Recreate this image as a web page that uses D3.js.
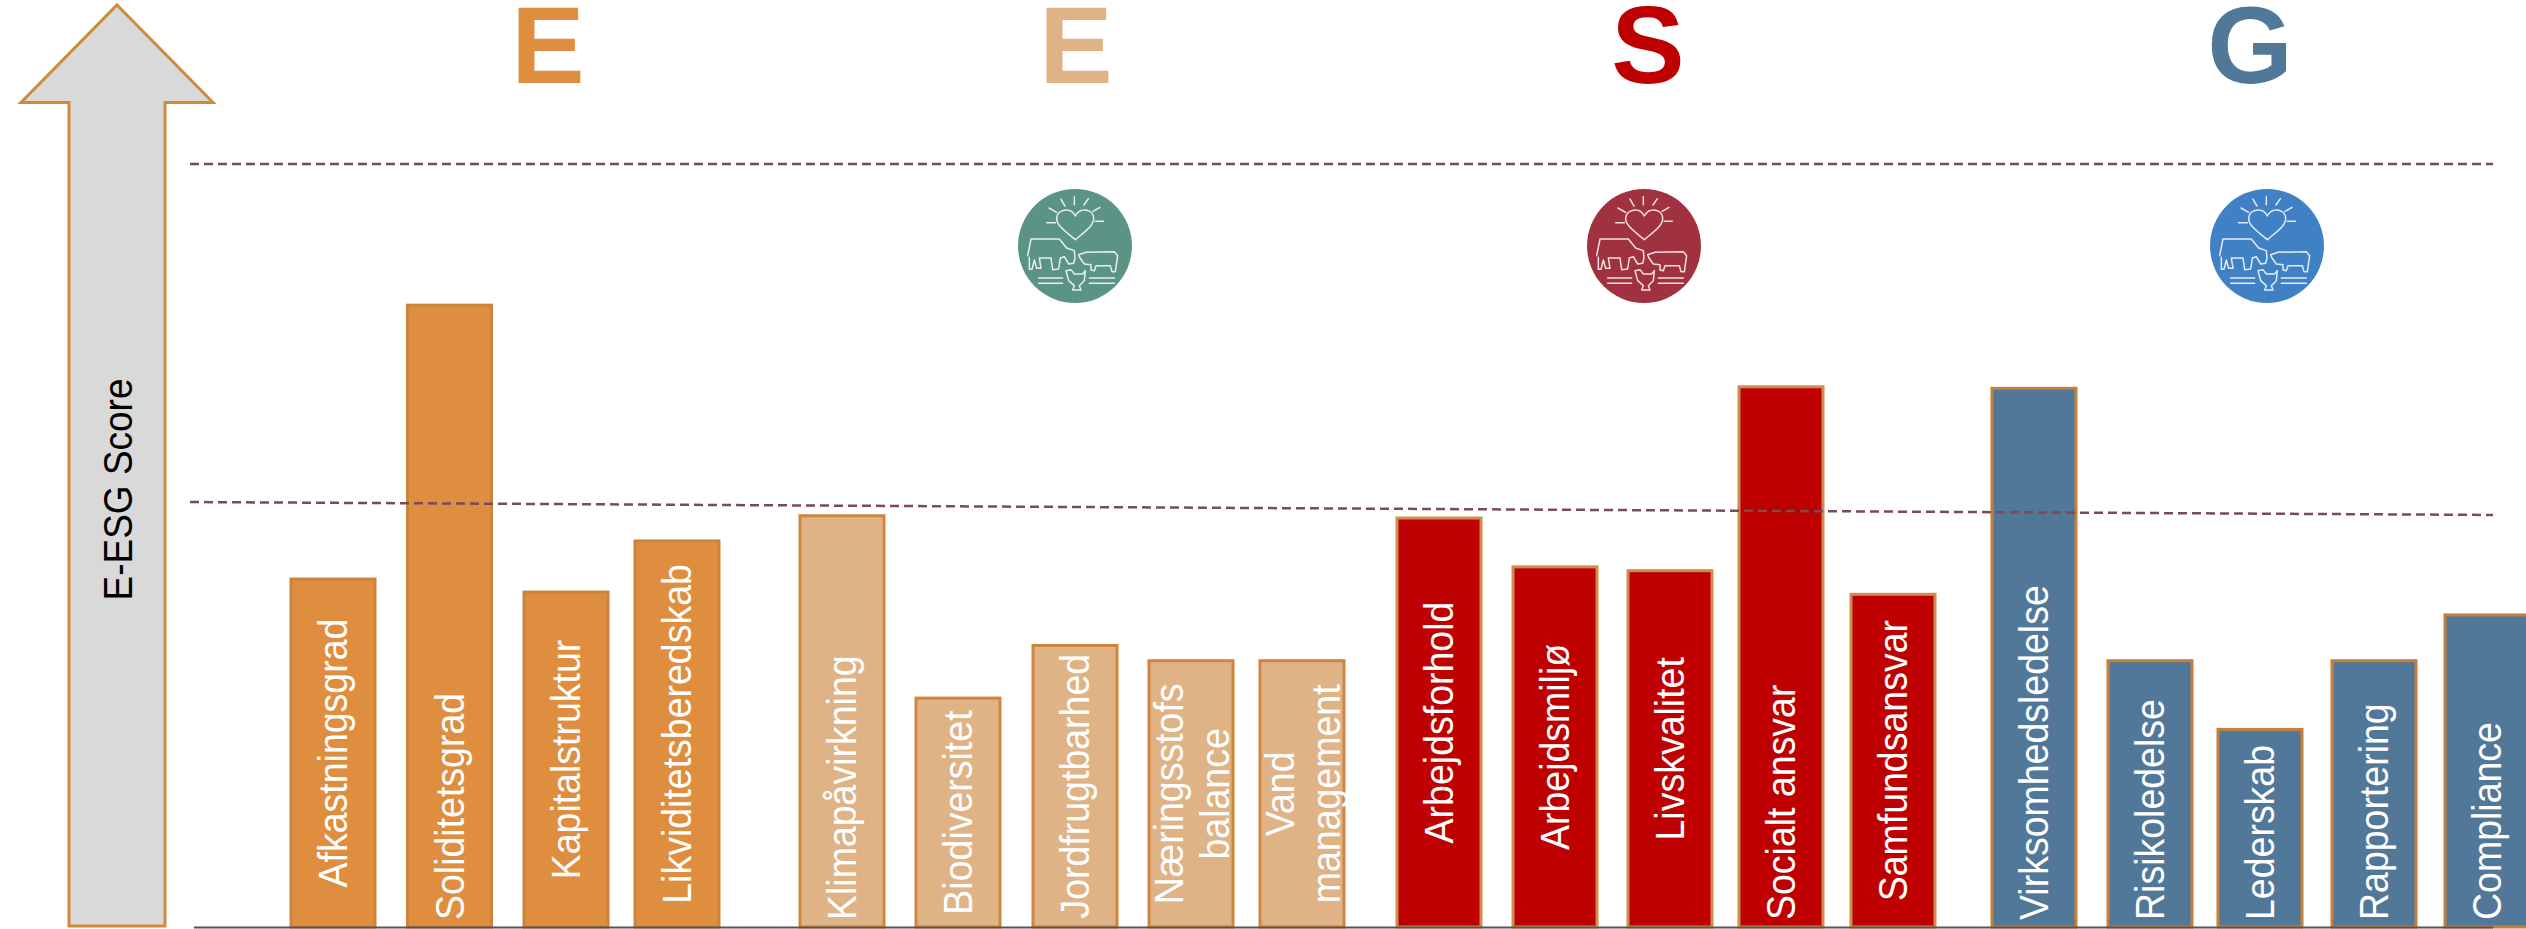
<!DOCTYPE html>
<html lang="en">
  <head>
    <meta charset="utf-8">
    <title>E-ESG Score</title>
    <script type="text/javascript" src="https://cdnjs.cloudflare.com/ajax/libs/d3/7.8.5/d3.min.js"></script>
    <style>
      html, body {
        margin: 0;
        padding: 0;
        background: #fff;
        overflow: hidden;
      }
      svg {
        display: block;
      }
      text {
        font-family: "Liberation Sans", Arial, sans-serif;
      }
      .bar-label {
        fill: #fff;
        font-size: 37.5px;
      }
      .group-title {
        font-size: 110px;
        font-weight: bold;
        text-anchor: middle;
      }
      .threshold {
        fill: none;
        stroke: #7b4a55;
        stroke-width: 2.5;
        stroke-dasharray: 9 5;
      }
      .icon path {
        fill: none;
        stroke: #fff;
        stroke-opacity: 0.85;
        stroke-width: 4.5;
        stroke-linejoin: round;
        stroke-linecap: round;
      }
    </style>
  </head>
  <body>
    <script type="text/javascript">

    //Categories and scores, group by group (score, 100 = upper dashed line)
    var econCategories = ["Afkastningsgrad", "Soliditetsgrad", "Kapitalstruktur", "Likviditetsberedskab"];
    var econValues = [45.6, 81.5, 43.9, 50.6];

    var envCategories = ["Klimapåvirkning", "Biodiversitet", "Jordfrugtbarhed", "Næringsstofs\nbalance", "Vand\nmanagement"];
    var envValues = [53.9, 30.0, 36.9, 34.9, 34.9];

    var socCategories = ["Arbejdsforhold", "Arbejdsmiljø", "Livskvalitet", "Socialt ansvar", "Samfundsansvar"];
    var socValues = [53.6, 47.2, 46.7, 70.8, 43.6];

    var govCategories = ["Virksomhedsledelse", "Risikoledelse", "Lederskab", "Rapportering", "Compliance"];
    var govValues = [70.6, 34.9, 25.9, 34.9, 40.9];

    //Group titles
    var groupTitles = ["E", "E", "S", "G"];

    //Dashed reference lines, score at the left and right end
    var upperLine = [100, 100];
    var lowerLine = [55.7, 54];

    //Labels that sit at the foot of the bar instead of its middle
    var footLabels = ["Soliditetsgrad", "Klimapåvirkning", "Socialt ansvar", "Virksomhedsledelse", "Risikoledelse", "Lederskab", "Rapportering", "Compliance"];

    //Width and height
    var w = 2526;
    var h = 929;
    var barWidth = 84;

    //Per group layout, steps are the distances from bar to bar
    var groups = [
      { categories: econCategories, values: econValues, range: [291, 635], steps: [116.5, 116.5, 111], fill: "#df8e3f", stroke: "#cb843a", titleX: 548, icon: null },
      { categories: envCategories, values: envValues, range: [800, 1260], steps: [116, 117, 116, 111], fill: "#e0b387", stroke: "#cf863c", titleX: 1076, icon: [1075, "#5b9485"] },
      { categories: socCategories, values: socValues, range: [1397, 1851], steps: [116, 115, 111, 112], fill: "#be0000", stroke: "#d08c4c", titleX: 1648, icon: [1644, "#a0323f"] },
      { categories: govCategories, values: govValues, range: [1992, 2445], steps: [116, 110, 114, 113], fill: "#527899", stroke: "#c4803a", titleX: 2250, icon: [2267, "#4080c4"] }
    ];

    //Create scale functions
    var yScale = d3.scaleLinear()
               .domain([0, 100])
               .range([927, 164]);

    var lineScale = d3.scaleLinear()
               .domain([0, 1])
               .range([190, 2493]);

    //Create SVG element
    var mySvg = d3.select("body")
          .append("svg")
          .attr("width", w)
          .attr("height", h);

    //Score arrow on the left
    mySvg.append("path")
      .attr("d", "M117,5 L213,102.5 L165,102.5 L165,926 L69,926 L69,102.5 L21,102.5 Z")
      .attr("fill", "#d9d9d9")
      .attr("stroke", "#d08a3e")
      .attr("stroke-width", 3);

    mySvg.append("text")
      .attr("transform", "translate(117,489.5) rotate(-90) scale(1,1.1)")
      .attr("text-anchor", "middle")
      .attr("dy", "0.38em")
      .attr("font-size", 37)
      .attr("fill", "#000")
      .text("E-ESG Score");

    //Create bars and labels for every group
    groups.forEach(function(group, i) {

      var stepScale = d3.scaleLinear()
                 .domain([0, d3.sum(group.steps)])
                 .range(group.range);

      var offsets = [0].concat(Array.from(d3.cumsum(group.steps)));

      var rows = group.categories.map(function(name, j) {
        return { name: name, value: group.values[j], left: stepScale(offsets[j]) };
      });

      var g = mySvg.append("g");

      g.selectAll("rect")
       .data(rows)
       .enter()
       .append("rect")
       .attr("x", function(d) { return d.left; })
       .attr("y", function(d) { return yScale(d.value); })
       .attr("width", barWidth)
       .attr("height", function(d) { return yScale(0) - yScale(d.value); })
       .attr("fill", group.fill)
       .attr("stroke", group.stroke)
       .attr("stroke-width", 3);

      var labels = g.selectAll("text")
       .data(rows)
       .enter()
       .append("text")
       .attr("class", "bar-label")
       .attr("transform", function(d) {
          var atFoot = footLabels.indexOf(d.name) >= 0;
          var y = atFoot ? yScale(0) - 7 : (yScale(d.value) + yScale(0)) / 2;
          return "translate(" + (d.left + barWidth / 2) + "," + y + ") rotate(-90) scale(1,1.08)";
       })
       .attr("text-anchor", function(d) {
          return footLabels.indexOf(d.name) >= 0 ? "start" : "middle";
       });

      labels.selectAll("tspan")
       .data(function(d) {
          var lines = d.name.split("\n");
          return lines.map(function(line, k) {
            return { line: line, offset: lines.length > 1 ? (k === 0 ? -7 : 35) : 13 };
          });
       })
       .enter()
       .append("tspan")
       .attr("x", 0)
       .attr("y", function(d) { return d.offset; })
       .text(function(d) { return d.line; });

      //Big group letter
      mySvg.append("text")
        .attr("class", "group-title")
        .attr("x", group.titleX)
        .attr("y", 83)
        .attr("fill", group.fill)
        .text(groupTitles[i]);

      //Animal welfare badge
      if (group.icon) {
        var icon = mySvg.append("g")
          .attr("class", "icon")
          .attr("transform", "translate(" + group.icon[0] + ",246) scale(0.3333) translate(-287,-226)");

        icon.append("circle")
          .attr("cx", 287)
          .attr("cy", 226)
          .attr("r", 171)
          .attr("fill", group.icon[1]);

        //Heart
        icon.append("path")
          .attr("d", "M288,207 C262,185 232,165 232,145 C232,125 250,116 265,118 C275,119 283,127 288,136 C293,127 301,119 312,118 C327,116 343,125 343,145 C343,165 314,185 288,207 Z");

        //Sun rays
        icon.append("path")
          .attr("d", "M285,78 L285,102 M245,85 L257,106 M327,84 L314,103 M209,112 L232,125 M362,110 L341,122 M202,156 L228,156 M348,152 L372,152");

        //Cow
        icon.append("path")
          .attr("d", "M145,255 L155,205 L240,205 L262,232 L285,240 L287,262 L283,278 L268,280 L255,258 L243,262 L238,295 L220,297 L215,262 L180,262 L185,293 L172,293 L165,268 L158,296 L150,296 L150,260");

        //Pig
        icon.append("path")
          .attr("d", "M298,252 L320,245 L405,243 L415,255 L412,275 L408,303 L398,303 L393,285 L350,285 L345,300 L335,298 L335,282 L315,280 L302,262 Z");

        //Hen
        icon.append("path")
          .attr("d", "M260,300 L275,297 L285,310 L310,310 L318,300 L315,330 L300,345 L305,358 L280,358 L285,345 L268,330 Z");

        //Ground lines
        icon.append("path")
          .attr("d", "M178,322 L250,322 M178,338 L250,338 M330,322 L405,322 M330,338 L405,338");
      }
    });

    //Create dashed lines on top of the bars
    var dashLine = d3.line()
          .x(function(d, i) { return lineScale(i); })
          .y(function(d) { return yScale(d); });

    mySvg.append("path")
      .attr("class", "threshold")
      .attr("d", dashLine(upperLine));

    mySvg.append("path")
      .attr("class", "threshold")
      .attr("d", dashLine(lowerLine));

    //Base line
    mySvg.append("line")
      .attr("x1", 194)
      .attr("x2", 2493)
      .attr("y1", yScale(0) + 0.5)
      .attr("y2", yScale(0) + 0.5)
      .attr("stroke", "#555")
      .attr("stroke-width", 2);

    </script>
  </body>
</html>
